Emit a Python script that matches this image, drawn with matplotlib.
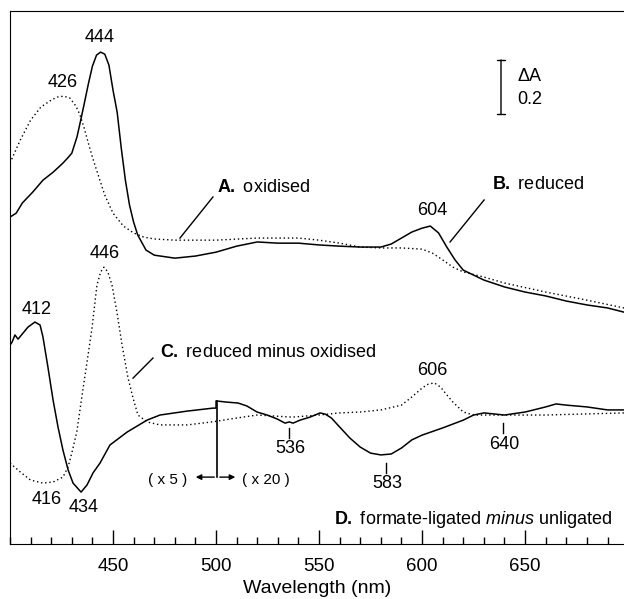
import numpy as np
import matplotlib
matplotlib.use("Agg")
import matplotlib.pyplot as plt
from matplotlib.ticker import MultipleLocator

plt.rcParams['font.family'] = ['Liberation Sans', 'DejaVu Sans']
plt.rcParams['mathtext.fontset'] = 'custom'
plt.rcParams['mathtext.rm'] = 'Liberation Sans'
plt.rcParams['mathtext.bf'] = 'Liberation Sans:bold'
plt.rcParams['mathtext.it'] = 'Liberation Sans:italic'

# A. oxidised (dotted), absorbance with display offset
ox_nm = [400, 405, 410, 415, 420, 423, 426, 429, 432, 434, 436, 438, 440, 442, 446, 450,
         455, 460, 465, 470, 480, 500, 520, 540, 550, 560, 570, 580, 590, 600, 605, 610,
         615, 620, 630, 640, 660, 680, 698]
ox_abs = [1.270, 1.347, 1.413, 1.457, 1.480, 1.490, 1.493, 1.487, 1.460, 1.430, 1.387, 1.337,
          1.290, 1.247, 1.163, 1.103, 1.060, 1.037, 1.023, 1.017, 1.013, 1.013, 1.020, 1.020,
          1.013, 1.003, 0.990, 0.987, 0.987, 0.983, 0.970, 0.947, 0.923, 0.907, 0.890, 0.870,
          0.840, 0.813, 0.787]

# B. reduced (solid)
red_nm = [400, 403, 406, 411, 416, 421, 425.7, 428, 430, 432.5, 434, 436, 438, 440, 442, 444,
          446, 448, 450, 452, 454, 456, 458, 460, 462, 466, 470, 476, 480, 490, 500, 510, 520,
          530, 540, 550, 560, 570, 580, 585, 590, 595, 600, 604, 608, 612, 616, 620, 630, 640,
          650, 660, 670, 680, 690, 698]
red_abs = [1.090, 1.103, 1.137, 1.173, 1.213, 1.240, 1.270, 1.287, 1.303, 1.357, 1.403, 1.467,
           1.533, 1.593, 1.630, 1.640, 1.633, 1.597, 1.513, 1.440, 1.320, 1.213, 1.130, 1.073,
           1.030, 0.980, 0.963, 0.957, 0.953, 0.960, 0.973, 0.993, 1.007, 1.003, 1.003, 0.997,
           0.993, 0.990, 0.990, 1.000, 1.020, 1.040, 1.053, 1.060, 1.037, 0.990, 0.947, 0.913,
           0.880, 0.857, 0.840, 0.827, 0.810, 0.797, 0.787, 0.773]

# C. reduced minus oxidised (dotted)
diff_nm = [400, 405, 410, 416, 421, 425.7, 428.2, 430, 432.5, 435, 437.4, 439.8, 442.2, 444,
           445.6, 447.5, 449.5, 451.9, 454.4, 457.3, 459.7, 462.1, 466.5, 472.8, 486, 498, 510,
           520, 537, 550, 560, 570, 580, 590, 595, 600, 603, 606, 609, 612, 615, 620, 625, 640,
           660, 698]
diff_abs = [0.270, 0.240, 0.213, 0.203, 0.207, 0.223, 0.257, 0.303, 0.377, 0.497, 0.607, 0.720,
            0.863, 0.907, 0.923, 0.907, 0.863, 0.773, 0.663, 0.553, 0.487, 0.430, 0.407, 0.397,
            0.397, 0.407, 0.420, 0.430, 0.423, 0.430, 0.437, 0.440, 0.447, 0.463, 0.490, 0.520,
            0.533, 0.537, 0.523, 0.497, 0.473, 0.440, 0.430, 0.430, 0.430, 0.437]

# D. formate-ligated minus unligated (solid, x5 below 500 nm, x20 above)
form_nm = [400, 401, 402.4, 403.9, 406.3, 408.7, 412.1, 414.6, 416, 418.4, 420.9, 423.3, 425.7,
           428.2, 430.6, 434.5, 437.4, 440.3, 443.7, 448.5, 456.8, 466.5, 472.8, 485.9, 498.5,
           500, 500, 505.3, 510.7, 515, 519.9, 524.8, 529.6, 533.5, 535.5, 537.4, 540.8, 545.6,
           550.5, 553, 556, 560, 565, 570, 575, 580, 585, 590, 595, 600, 610, 620, 625, 630,
           640, 650, 660, 665, 670, 680, 690, 698]
form_abs = [0.663, 0.673, 0.697, 0.683, 0.703, 0.723, 0.740, 0.730, 0.690, 0.590, 0.480, 0.390,
            0.313, 0.247, 0.203, 0.173, 0.197, 0.237, 0.270, 0.330, 0.373, 0.413, 0.430, 0.443,
            0.453, 0.453, 0.477, 0.473, 0.470, 0.460, 0.440, 0.430, 0.417, 0.403, 0.407, 0.403,
            0.413, 0.423, 0.437, 0.433, 0.420, 0.390, 0.353, 0.323, 0.303, 0.297, 0.300, 0.320,
            0.347, 0.363, 0.387, 0.413, 0.430, 0.437, 0.430, 0.440, 0.457, 0.467, 0.463, 0.457,
            0.447, 0.447]

dots = (0, (1, 2))

fig = plt.figure(figsize=(6.24, 5.99), dpi=100)
ax = fig.add_axes([10 / 624, 55 / 599, 614 / 624, 533 / 599])

ax.plot(ox_nm, ox_abs, color='black', lw=1.0, ls=dots)
ax.plot(red_nm, red_abs, color='black', lw=1.1)
ax.plot(diff_nm, diff_abs, color='black', lw=1.0, ls=dots)
ax.plot(form_nm, form_abs, color='black', lw=1.1)

ax.set_xlim(400, 698)
ax.set_ylim(0, 1.777)
ax.set_yticks([])
ax.spines['right'].set_visible(False)
ax.xaxis.set_major_locator(MultipleLocator(50))
ax.xaxis.set_minor_locator(MultipleLocator(10))
ax.set_xticks([450, 500, 550, 600, 650])
ax.tick_params(axis='x', which='major', direction='in', length=10, width=1, labelsize=13.5, pad=10)
ax.tick_params(axis='x', which='minor', direction='in', length=5, width=1)
ax.set_xlabel('Wavelength (nm)', fontsize=14, labelpad=4)

fs = 13
# peak labels
ax.text(443.7, 1.687, '444', ha='center', va='center', fontsize=fs)
ax.text(425.7, 1.540, '426', ha='center', va='center', fontsize=fs)
ax.text(604.9, 1.113, '604', ha='center', va='center', fontsize=fs)
ax.text(446.1, 0.967, '446', ha='center', va='center', fontsize=fs)
ax.text(413.1, 0.783, '412', ha='center', va='center', fontsize=fs)
ax.text(418.0, 0.147, '416', ha='center', va='center', fontsize=fs)
ax.text(435.9, 0.123, '434', ha='center', va='center', fontsize=fs)
ax.text(604.9, 0.577, '606', ha='center', va='center', fontsize=fs)

# trough markers for D
for wl, y0, y1, ylab, lab in [(535.4, 0.387, 0.353, 0.320, '536'),
                              (582.5, 0.270, 0.237, 0.203, '583'),
                              (639.3, 0.403, 0.370, 0.333, '640')]:
    ax.plot([wl, wl], [y0, y1], color='black', lw=1)
    ax.text(wl + 0.8, ylab, lab, ha='center', va='center', fontsize=fs)

# curve names with leader lines
ax.text(500.5, 1.190, r'$\bf{A.}$ oxidised', ha='left', va='center', fontsize=fs)
ax.plot([498.5, 482.5], [1.157, 1.020], color='black', lw=1)
ax.text(634.0, 1.197, r'$\bf{B.}$ reduced', ha='left', va='center', fontsize=fs)
ax.plot([630.1, 613.6], [1.147, 1.007], color='black', lw=1)
ax.text(472.8, 0.640, r'$\bf{C.}$ reduced minus oxidised', ha='left', va='center', fontsize=fs)
ax.plot([469.4, 459.7], [0.620, 0.553], color='black', lw=1)
ax.text(692.2, 0.083, r'$\bf{D.}$ formate-ligated $\it{minus}$ unligated', ha='right',
        va='center', fontsize=fs)

# scale change marker at 500 nm
ax.plot([500.5, 500.5], [0.477, 0.223], color='black', lw=1.2)
ax.annotate('', xy=(488.8, 0.223), xytext=(500.5, 0.223),
            arrowprops=dict(arrowstyle='-|>', color='black', lw=1, mutation_scale=8))
ax.annotate('', xy=(510.7, 0.223), xytext=(500.5, 0.223),
            arrowprops=dict(arrowstyle='-|>', color='black', lw=1, mutation_scale=8))
ax.text(476.7, 0.213, '( x 5 )', ha='center', va='center', fontsize=11)
ax.text(524.3, 0.213, '( x 20 )', ha='center', va='center', fontsize=11)

# absorbance scale bar
ax.annotate('', xy=(638.3, 1.623), xytext=(638.3, 1.423),
            arrowprops=dict(arrowstyle='|-|', color='black', lw=1, mutation_scale=3))
ax.text(646.1, 1.560, '\u0394A', ha='left', va='center', fontsize=fs)
ax.text(646.1, 1.483, '0.2', ha='left', va='center', fontsize=fs)

fig.savefig('out.png', dpi=100)
